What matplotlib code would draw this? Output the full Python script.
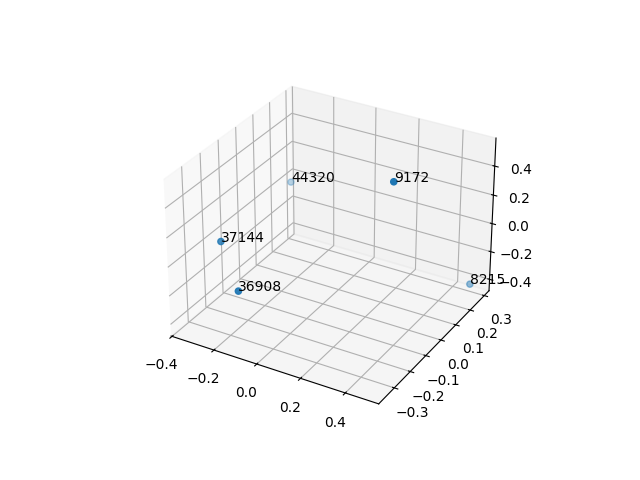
import matplotlib
matplotlib.use("Agg")
import matplotlib.pyplot as plt

labels = ["44320", "9172", "37144", "36908", "8215"]
xs = [-0.344, 0.329, -0.280, -0.116, 0.486]
ys = [0.248, -0.012, -0.246, -0.349, 0.288]
zs = [0.007, 0.522, 0.084, -0.080, -0.415]

fig = plt.figure(figsize=(6.4, 4.8), dpi=100)
ax = fig.add_subplot(projection="3d")
ax.scatter(xs, ys, zs)
for x, y, z, t in zip(xs, ys, zs, labels):
    ax.text(x, y, z, t)
fig.savefig("out.png")
